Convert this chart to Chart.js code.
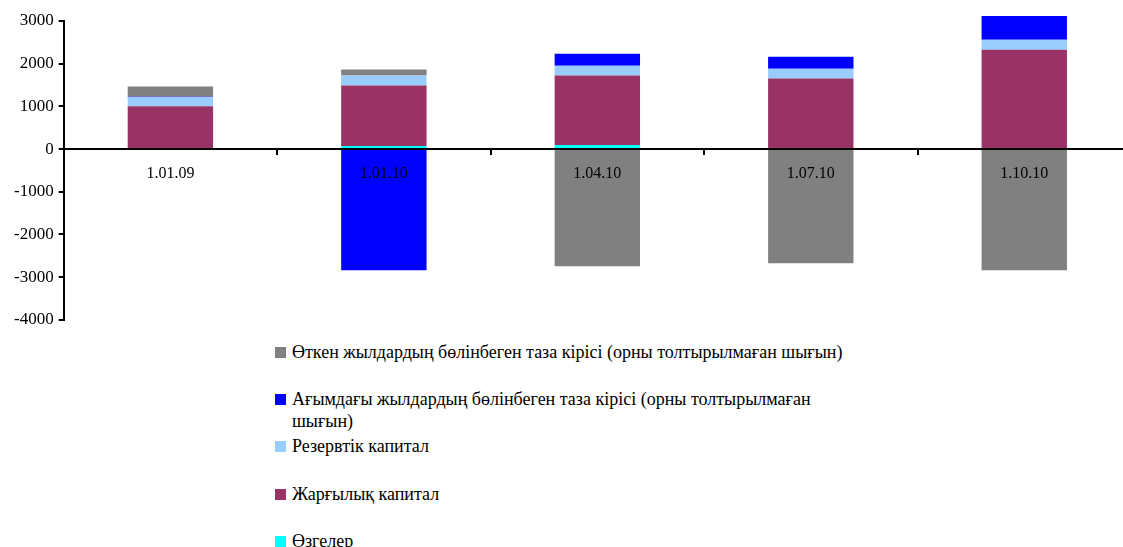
<!DOCTYPE html>
<html>
<head>
<meta charset="utf-8">
<script src="https://cdn.jsdelivr.net/npm/chart.js@4/dist/chart.umd.min.js"></script>
<style>
  body { margin: 0; background: #fff; width: 1123px; height: 547px; overflow: hidden; position: relative; }
  #wrap { position: absolute; left: 0; top: 0; width: 1131px; height: 335px; }
  .legend { position: absolute; left: 275px; font-family: "Liberation Serif", "Times New Roman", "DejaVu Serif", serif; font-size: 18px; color: #000; }
  .item { position: absolute; left: 0; width: 576px; padding-left: 17px; line-height: 22px; white-space: normal; }
  .box { position: absolute; left: 0; top: 6px; width: 11px; height: 11px; }
</style>
</head>
<body>
<div id="wrap"><canvas id="chart"></canvas></div>
<div class="legend" id="legend"></div>
<script>
// categories and series
const labels = ["1.01.09", "1.01.10", "1.04.10", "1.07.10", "1.10.10"];
const other = [0, 70, 93, 0, 0];                  // Өзгелер
const charterCap = [1000, 1420, 1628, 1651, 2326]; // Жарғылық капитал
const reserveCap = [215, 233, 232, 233, 232];      // Резервтік капитал
const currentYear = [10, -2840, 280, 279, 558];    // Ағымдағы жылдардың ...
const pastYears = [240, 140, -2744, -2674, -2837]; // Өткен жылдардың ...
const yTicks = [3000, 2000, 1000, 0, -1000, -2000, -3000, -4000];

const series = [
  { label: "Өзгелер", data: other, color: "#00FFFF" },
  { label: "Жарғылық капитал", data: charterCap, color: "#993366" },
  { label: "Резервтік капитал", data: reserveCap, color: "#99CCFF" },
  { label: "Ағымдағы жылдардың бөлінбеген таза кірісі (орны толтырылмаған шығын)", data: currentYear, color: "#0000FF" },
  { label: "Өткен жылдардың бөлінбеген таза кірісі (орны толтырылмаған шығын)", data: pastYears, color: "#808080" },
];

const serif = "'Liberation Serif', 'Times New Roman', 'DejaVu Serif', serif";

new Chart(document.getElementById("chart"), {
  type: "bar",
  data: {
    labels: labels,
    datasets: series.map(s => ({
      label: s.label,
      data: s.data,
      backgroundColor: s.color,
      borderWidth: 0,
      barPercentage: 0.8,
      categoryPercentage: 0.5,
      clip: false,
    })),
  },
  options: {
    responsive: true,
    maintainAspectRatio: false,
    animation: false,
    layout: { padding: { left: 9, right: 0, top: 21, bottom: 13 } },
    plugins: { legend: { display: false }, tooltip: { enabled: false } },
    scales: {
      x: {
        stacked: true,
        position: { y: 0 },
        grid: { drawOnChartArea: false, drawTicks: true, tickLength: 5, color: "#000", lineWidth: 2, offset: true, z: 1 },
        border: { color: "#000", width: 2, z: 1 },
        ticks: { color: "#000", font: { family: serif, size: 16 }, padding: 10, z: 1 },
      },
      y: {
        stacked: true,
        min: yTicks[yTicks.length - 1],
        max: yTicks[0],
        afterBuildTicks: axis => { axis.ticks = yTicks.map(v => ({ value: v })); },
        grid: { drawOnChartArea: false, drawTicks: true, tickLength: 5, color: "#000", lineWidth: 2 },
        border: { color: "#000", width: 2 },
        ticks: { color: "#000", font: { family: serif, size: 17 }, padding: 5, callback: v => String(v) },
      },
    },
  },
});

// legend (reverse order, as in the original)
const legendTops = [341, 388, 435, 483, 530];
const legend = document.getElementById("legend");
series.slice().reverse().forEach((s, i) => {
  const item = document.createElement("div");
  item.className = "item";
  item.style.top = legendTops[i] + "px";
  item.innerHTML = '<span class="box" style="background:' + s.color + '"></span>' + s.label;
  legend.appendChild(item);
});
</script>
</body>
</html>
